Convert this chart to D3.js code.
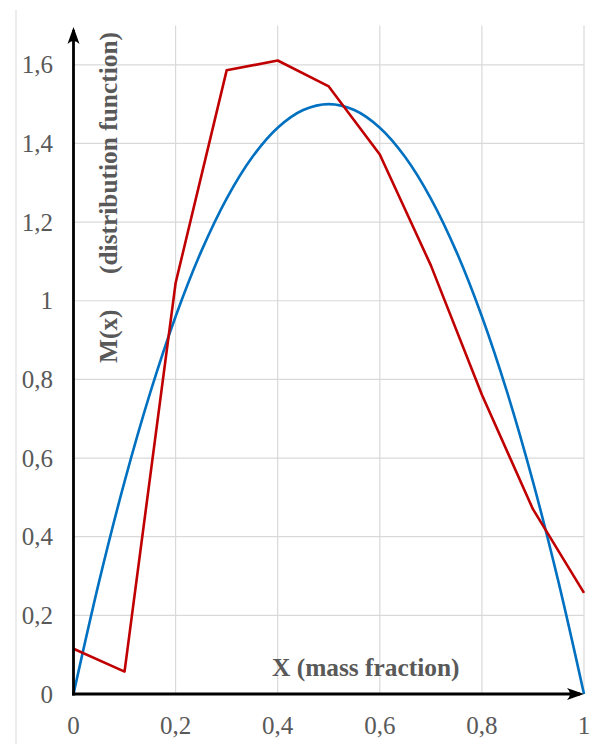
<!DOCTYPE html>
<html><head><meta charset="utf-8">
<script src="https://cdn.jsdelivr.net/npm/d3@7"></script>
<style>body{margin:0;background:#fff}svg{display:block}</style>
</head><body>
<svg id="c" width="594" height="744"></svg>
<script>
// Data
const xTicks = [0, 0.2, 0.4, 0.6, 0.8, 1];
const yTicks = [0, 0.2, 0.4, 0.6, 0.8, 1, 1.2, 1.4, 1.6];
const redX = [0, 0.1, 0.2, 0.3, 0.4, 0.5, 0.6, 0.7, 0.8, 0.9, 1];
const redY = [0.115, 0.057, 1.045, 1.586, 1.611, 1.545, 1.372, 1.09, 0.761, 0.47, 0.257];
const blueX = [0, 0.05, 0.1, 0.15, 0.2, 0.25, 0.3, 0.35, 0.4, 0.45, 0.5, 0.55, 0.6, 0.65, 0.7, 0.75, 0.8, 0.85, 0.9, 0.95, 1];
const blueY = [0, 0.285, 0.54, 0.765, 0.96, 1.125, 1.26, 1.365, 1.44, 1.485, 1.5, 1.485, 1.44, 1.365, 1.26, 1.125, 0.96, 0.765, 0.54, 0.285, 0];
const xTitle = "X (mass fraction)";
const yTitleA = "M(x)";
const yTitleB = "(distribution function)";

const svg = d3.select("#c");
const x = d3.scaleLinear().domain([0, 1]).range([73.5, 584]);
const y = d3.scaleLinear().domain([0, 1.7]).range([694, 25.5]);
const fmt = d => String(d).replace(".", ",");
const serif = "'Liberation Serif','Times New Roman',serif";

// left frame line
svg.append("line").attr("x1", 16).attr("x2", 16).attr("y1", 10).attr("y2", 744)
  .attr("stroke", "#d9d9d9").attr("stroke-width", 1);

// grid
const g = svg.append("g");
g.selectAll(".hg").data(yTicks.filter(d => d > 0)).join("line")
  .attr("x1", x(0)).attr("x2", x(1)).attr("y1", d => y(d)).attr("y2", d => y(d))
  .attr("stroke", "#d9d9d9").attr("stroke-width", 1.2);
g.selectAll(".vg").data(xTicks.filter(d => d > 0)).join("line")
  .attr("x1", d => x(d)).attr("x2", d => x(d)).attr("y1", y(0)).attr("y2", y(1.7))
  .attr("stroke", "#d9d9d9").attr("stroke-width", 1.2);

// tick labels
svg.selectAll(".yl").data(yTicks).join("text")
  .attr("x", 53).attr("y", d => y(d)).attr("dy", "0.34em")
  .attr("text-anchor", "end").attr("font-family", serif).attr("font-size", 25)
  .attr("fill", "#595959").text(fmt);
svg.selectAll(".xl").data(xTicks).join("text")
  .attr("x", d => x(d)).attr("y", 734)
  .attr("text-anchor", "middle").attr("font-family", serif).attr("font-size", 25)
  .attr("fill", "#595959").text(fmt);

// lines
const blue = blueX.map((d, i) => [d, blueY[i]]);
const red = redX.map((d, i) => [d, redY[i]]);
svg.append("path").datum(blue)
  .attr("d", d3.line().x(d => x(d[0])).y(d => y(d[1])).curve(d3.curveCatmullRom))
  .attr("fill", "none").attr("stroke", "#0070C0").attr("stroke-width", 2.6);
svg.append("path").datum(red)
  .attr("d", d3.line().x(d => x(d[0])).y(d => y(d[1])))
  .attr("fill", "none").attr("stroke", "#C00000").attr("stroke-width", 2.6)
  .attr("stroke-linejoin", "round");

// axes with arrows
svg.append("line").attr("x1", x(0)).attr("x2", x(0)).attr("y1", y(0) + 1.5).attr("y2", 30)
  .attr("stroke", "#000").attr("stroke-width", 2.8);
svg.append("line").attr("x1", x(0) - 1.5).attr("x2", x(1) - 4).attr("y1", y(0)).attr("y2", y(0))
  .attr("stroke", "#000").attr("stroke-width", 2.8);
const ax = x(0), ay = 27;
svg.append("path")
  .attr("d", `M${ax},${ay} L${ax - 6},${ay + 17} Q${ax},${ay + 11} ${ax + 6},${ay + 17} Z`)
  .attr("fill", "#000");
const bx = x(1), by = y(0);
svg.append("path")
  .attr("d", `M${bx},${by} L${bx - 17},${by - 6} Q${bx - 11},${by} ${bx - 17},${by + 6} Z`)
  .attr("fill", "#000");

// titles
svg.append("text").attr("x", 272).attr("y", 676)
  .attr("font-family", serif).attr("font-weight", "bold").attr("font-size", 25.4)
  .attr("fill", "#595959").text(xTitle);
svg.append("text").attr("transform", "translate(117,363) rotate(-90)")
  .attr("font-family", serif).attr("font-weight", "bold").attr("font-size", 25.4)
  .attr("fill", "#595959").text(yTitleA);
svg.append("text").attr("transform", "translate(117,32) rotate(-90)")
  .attr("text-anchor", "end")
  .attr("font-family", serif).attr("font-weight", "bold").attr("font-size", 25.4)
  .attr("fill", "#595959").text(yTitleB);
</script>
</body></html>
